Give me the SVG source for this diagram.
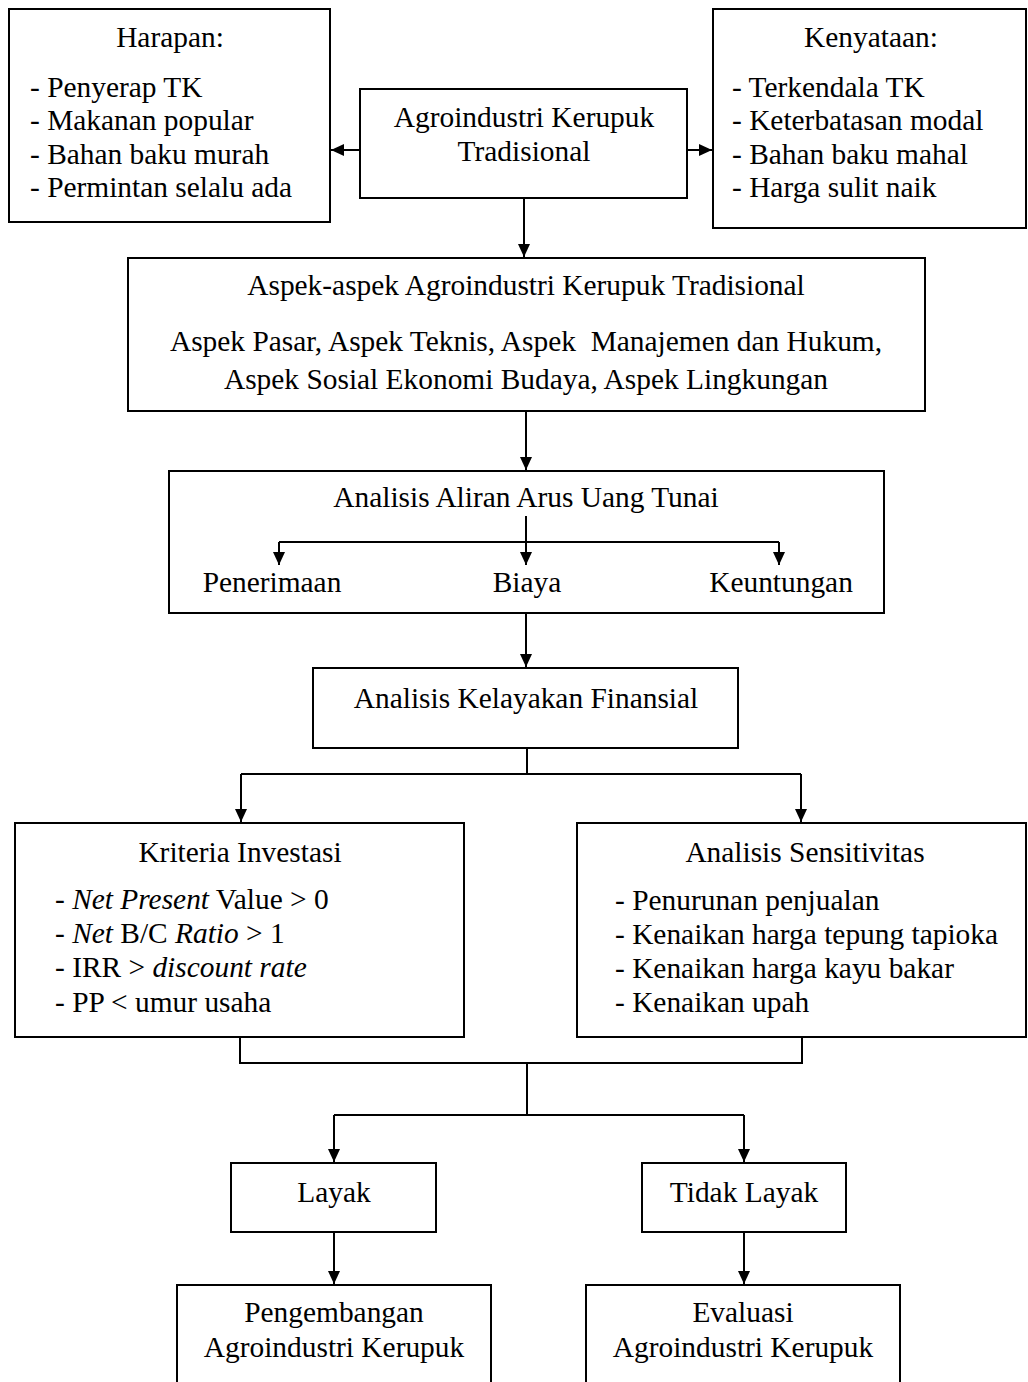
<svg xmlns="http://www.w3.org/2000/svg" width="1028" height="1382" viewBox="0 0 1028 1382">
<style>
  .box { fill: #ffffff; stroke: #000000; stroke-width: 2; }
  .t { font-family: "Liberation Serif", "Times New Roman", serif; font-size: 29.4px; fill: #000000; }
  .c { text-anchor: middle; }
  .ln { fill: none; stroke: #000000; stroke-width: 2; }
  .la { fill: none; stroke: #000000; stroke-width: 2; marker-end: url(#ah); }
  .i { font-style: italic; }
</style>
<defs>
  <marker id="ah" markerUnits="userSpaceOnUse" markerWidth="14" markerHeight="14" viewBox="0 0 14 14" refX="13" refY="7" orient="auto">
    <path d="M0,1 L13,7 L0,13 Z" fill="#000000"/>
  </marker>
</defs>
<rect width="1028" height="1382" fill="#ffffff"/>

<g id="harapan">
  <rect class="box" x="9" y="9" width="321" height="213"/>
  <text class="t c" x="170" y="47">Harapan:</text>
  <text class="t" x="30" y="97">- Penyerap TK</text>
  <text class="t" x="30" y="130">- Makanan popular</text>
  <text class="t" x="30" y="164">- Bahan baku murah</text>
  <text class="t" x="30" y="197">- Permintan selalu ada</text>
</g>

<g id="agroindustri">
  <rect class="box" x="360" y="89" width="327" height="109"/>
  <text class="t c" x="524" y="127">Agroindustri Kerupuk</text>
  <text class="t c" x="524" y="161">Tradisional</text>
</g>

<g id="kenyataan">
  <rect class="box" x="713" y="9" width="313" height="219"/>
  <text class="t c" x="871" y="47">Kenyataan:</text>
  <text class="t" x="732" y="97">- Terkendala TK</text>
  <text class="t" x="732" y="130">- Keterbatasan modal</text>
  <text class="t" x="732" y="164">- Bahan baku mahal</text>
  <text class="t" x="732" y="197">- Harga sulit naik</text>
</g>

<g id="aspek">
  <rect class="box" x="128" y="258" width="797" height="153"/>
  <text class="t c" x="526" y="295">Aspek-aspek Agroindustri Kerupuk Tradisional</text>
  <text class="t c" x="526" y="351" xml:space="preserve">Aspek Pasar, Aspek Teknis, Aspek  Manajemen dan Hukum,</text>
  <text class="t c" x="526" y="389">Aspek Sosial Ekonomi Budaya, Aspek Lingkungan</text>
</g>

<g id="arus-kas">
  <rect class="box" x="169" y="471" width="715" height="142"/>
  <text class="t c" x="526" y="507">Analisis Aliran Arus Uang Tunai</text>
  <text class="t c" x="272" y="592">Penerimaan</text>
  <text class="t c" x="527" y="592">Biaya</text>
  <text class="t c" x="781" y="592">Keuntungan</text>
</g>

<g id="kelayakan">
  <rect class="box" x="313" y="668" width="425" height="80"/>
  <text class="t c" x="526" y="708">Analisis Kelayakan Finansial</text>
</g>

<g id="kriteria">
  <rect class="box" x="15" y="823" width="449" height="214"/>
  <text class="t c" x="240" y="862">Kriteria Investasi</text>
  <text class="t" x="55" y="909">- <tspan class="i">Net Present</tspan> Value &gt; 0</text>
  <text class="t" x="55" y="943">- <tspan class="i">Net</tspan> B/C <tspan class="i">Ratio</tspan> &gt; 1</text>
  <text class="t" x="55" y="977">- IRR &gt; <tspan class="i">discount rate</tspan></text>
  <text class="t" x="55" y="1012">- PP &lt; umur usaha</text>
</g>

<g id="sensitivitas">
  <rect class="box" x="577" y="823" width="449" height="214"/>
  <text class="t c" x="805" y="862">Analisis Sensitivitas</text>
  <text class="t" x="615" y="910">- Penurunan penjualan</text>
  <text class="t" x="615" y="944">- Kenaikan harga tepung tapioka</text>
  <text class="t" x="615" y="978">- Kenaikan harga kayu bakar</text>
  <text class="t" x="615" y="1012">- Kenaikan upah</text>
</g>

<g id="layak">
  <rect class="box" x="231" y="1163" width="205" height="69"/>
  <text class="t c" x="334" y="1202">Layak</text>
</g>

<g id="tidak-layak">
  <rect class="box" x="642" y="1163" width="204" height="69"/>
  <text class="t c" x="744" y="1202">Tidak Layak</text>
</g>

<g id="pengembangan">
  <rect class="box" x="177" y="1285" width="314" height="110"/>
  <text class="t c" x="334" y="1322">Pengembangan</text>
  <text class="t c" x="334" y="1357">Agroindustri Kerupuk</text>
</g>

<g id="evaluasi">
  <rect class="box" x="586" y="1285" width="314" height="110"/>
  <text class="t c" x="743" y="1322">Evaluasi</text>
  <text class="t c" x="743" y="1357">Agroindustri Kerupuk</text>
</g>

<g id="connectors">
  <line class="la" x1="360" y1="150" x2="331" y2="150"/>
  <line class="la" x1="687" y1="150" x2="712" y2="150"/>
  <line class="la" x1="524" y1="198" x2="524" y2="257"/>
  <line class="la" x1="526" y1="411" x2="526" y2="470"/>
  <line class="la" x1="526" y1="516" x2="526" y2="565"/>
  <line class="ln" x1="279" y1="542" x2="779" y2="542"/>
  <line class="la" x1="279" y1="542" x2="279" y2="565"/>
  <line class="la" x1="779" y1="542" x2="779" y2="565"/>
  <line class="la" x1="526" y1="613" x2="526" y2="667"/>
  <line class="ln" x1="527" y1="748" x2="527" y2="774"/>
  <line class="ln" x1="241" y1="774" x2="801" y2="774"/>
  <line class="la" x1="241" y1="774" x2="241" y2="822"/>
  <line class="la" x1="801" y1="774" x2="801" y2="822"/>
  <polyline class="ln" points="240,1037 240,1063 802,1063 802,1037"/>
  <line class="ln" x1="527" y1="1063" x2="527" y2="1115"/>
  <line class="ln" x1="334" y1="1115" x2="744" y2="1115"/>
  <line class="la" x1="334" y1="1115" x2="334" y2="1162"/>
  <line class="la" x1="744" y1="1115" x2="744" y2="1162"/>
  <line class="la" x1="334" y1="1232" x2="334" y2="1284"/>
  <line class="la" x1="744" y1="1232" x2="744" y2="1284"/>
</g>
</svg>
